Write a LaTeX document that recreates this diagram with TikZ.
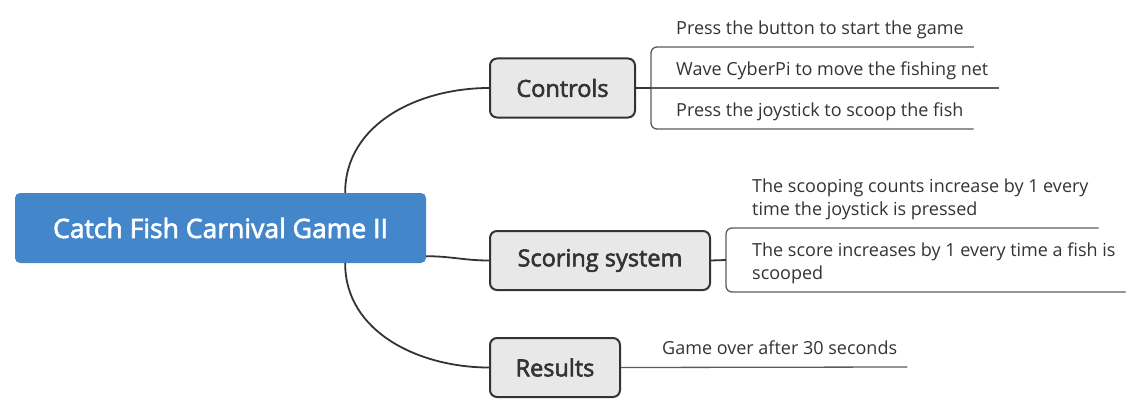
\documentclass[tikz,border=0pt]{standalone}
\usepackage{fontspec}
\setmainfont{Open Sans}
\newfontfamily\semibold{Open Sans}[FakeBold=2.5]
\usetikzlibrary{calc}
\definecolor{mainblue}{HTML}{4387CA}
\definecolor{boxgray}{HTML}{E8E8E8}
\definecolor{inkgray}{HTML}{333333}
\definecolor{linegray}{HTML}{5A5A5A}
\tikzset{
  topic/.style={rectangle, rounded corners=5, fill=mainblue, text=white, minimum width=411, minimum height=70, font=\semibold\fontsize{26.5}{30}\selectfont},
  branch/.style={rectangle, rounded corners=7, draw=inkgray, fill=boxgray, line width=2, text=inkgray, minimum height=59, font=\semibold\fontsize{23.5}{27}\selectfont},
  leaf/.style={anchor=south west, align=left, inner xsep=10, inner ysep=7.5, text depth=4.5pt, text=inkgray, font=\fontsize{18}{23}\selectfont},
  link/.style={draw=inkgray, line width=1.8},
  leafline/.style={draw=linegray, line width=1.3}
}
\begin{document}
\begin{tikzpicture}[x=1pt,y=-1pt]
\useasboundingbox (0,0) rectangle (1142,412);
%Boxes
\node[topic] (main) at (220.5,228) {Catch Fish Carnival Game II};
\node[branch, minimum width=145] (controls) at (562.5,88) {Controls};
\node[branch, minimum width=220] (scoring) at (600,260.5) {Scoring system};
\node[branch, minimum width=130] (results) at (555,367.5) {Results};
%Text
\node[leaf] (c1) at (666,47) {Press the button to start the game};
\node[leaf] (c2) at (666,88) {Wave CyberPi to move the fishing net};
\node[leaf] (c3) at (666,129) {Press the joystick to scoop the fish};
\node[leaf] (s1) at (742,228) {The scooping counts increase by 1 every\\time the joystick is pressed};
\node[leaf] (s2) at (742,292) {The score increases by 1 every time a fish is\\scooped};
\node[leaf] (r1) at (652,367) {Game over after 30 seconds};
%Links
\coordinate (mtop) at ($(main.north west)!0.803!(main.north east)$);
\coordinate (mbot) at ($(main.south west)!0.803!(main.south east)$);
\coordinate (mright) at ($(main.south east)+(0,-7)$);
\draw[link] (mtop) to[out=90,in=180] (controls.west);
\draw[link] (mbot) to[out=-90,in=180] (results.west);
\draw[link] (mright) to[out=0,in=180] (scoring.west);
\coordinate (cb) at ($(c2.south west)+(-15,0)$);
\coordinate (sb) at ($(s1.south west)!0.5!(s2.south west)+(-16,0)$);
\draw[leafline, rounded corners=6] (c1.south east) -- ($(c1.south west)+(-15,0)$) -- ($(c3.south west)+(-15,0)$) -- (c3.south east);
\draw[leafline] (cb) -- (c2.south east);
\draw[link] (controls.east) -- (cb);
\draw[leafline, rounded corners=6] (s1.south east) -- ($(s1.south west)+(-16,0)$) -- ($(s2.south west)+(-16,0)$) -- (s2.south east);
\draw[link] (scoring.east) -- (sb);
\draw[leafline] (results.east) -- (r1.south east);
\end{tikzpicture}
\end{document}
